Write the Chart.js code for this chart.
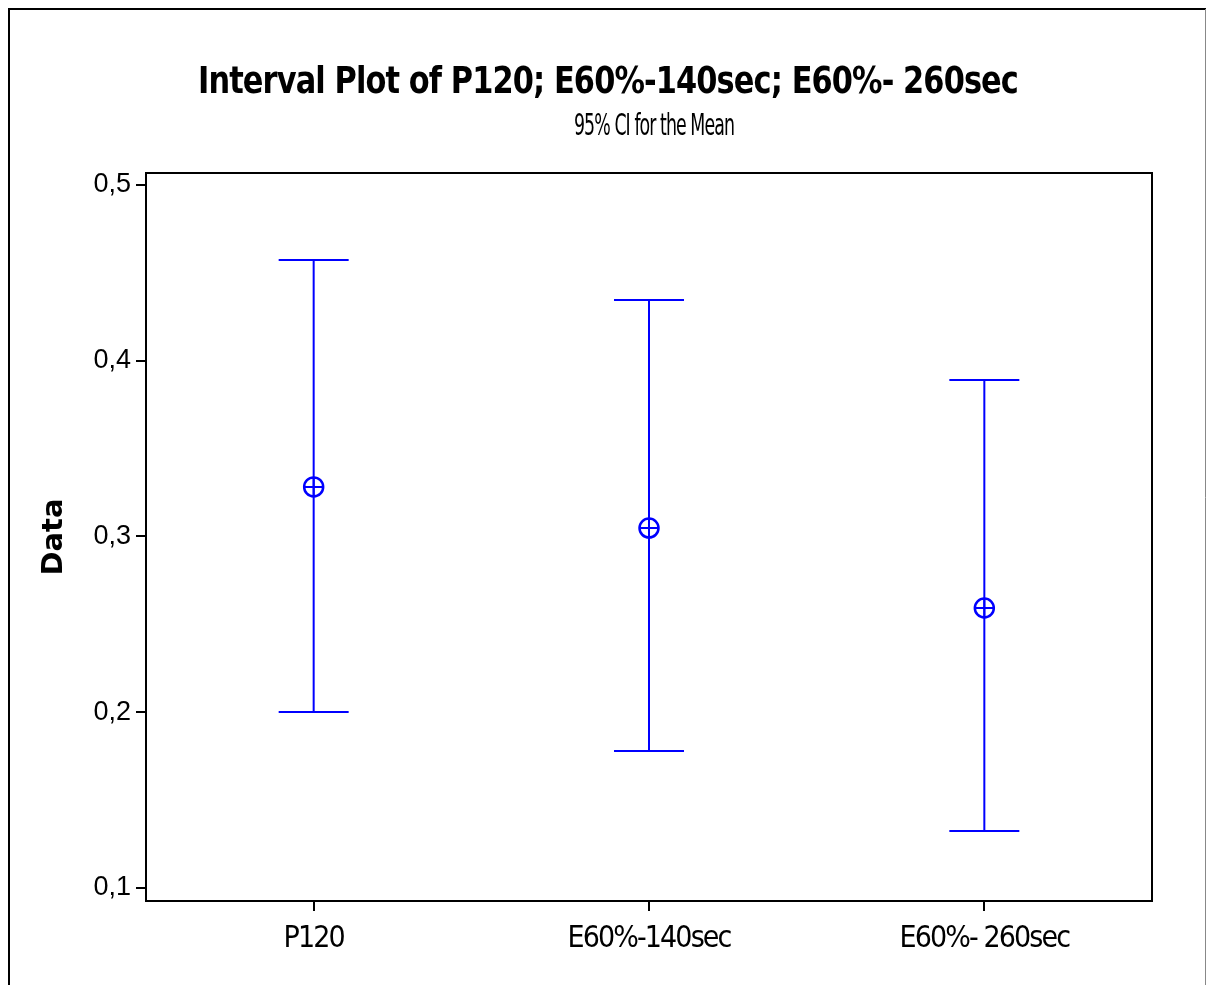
<!DOCTYPE html>
<html><head><meta charset="utf-8">
<script src="https://cdn.jsdelivr.net/npm/chart.js@4.4.1/dist/chart.umd.min.js"></script>
<style>html,body{margin:0;padding:0;background:#fff;overflow:hidden}#wrap{position:relative;width:1207px;height:985px}</style>
</head><body><div id="wrap"><canvas id="c" width="1207" height="985"></canvas></div>
<script>
const categories = ['P120', 'E60%-140sec', 'E60%- 260sec'];
const means = [0.3282, 0.3048, 0.2593];
const lowerCI = [0.2001, 0.1780, 0.1324];
const upperCI = [0.4573, 0.4346, 0.3890];
const yTicks = [0.1, 0.2, 0.3, 0.4, 0.5];
const yMin = 0.0926, yMax = 0.5068;
const chartTitle = 'Interval Plot of P120; E60%-140sec; E60%- 260sec';
const chartSubtitle = '95% CI for the Mean';
const yAxisTitle = 'Data';

const COND = "'DejaVu Sans Condensed', 'Liberation Sans Narrow', sans-serif";
const BLUE = '#0000FF';

const xPos = categories.map((c, i) => i + 1);
const stems = [];
xPos.forEach((x, i) => { stems.push({x, y: lowerCI[i]}, {x, y: upperCI[i]}, {x, y: null}); });
const caps = [];
xPos.forEach((x, i) => { caps.push({x, y: lowerCI[i]}, {x, y: upperCI[i]}); });
const meanPts = xPos.map((x, i) => ({x, y: means[i]}));

function fittedText(ctx, text, font, spacing, cx, baseline, targetW) {
  ctx.save();
  ctx.font = font;
  ctx.letterSpacing = spacing + 'px';
  ctx.textAlign = 'left';
  ctx.textBaseline = 'alphabetic';
  ctx.fillStyle = '#000';
  const w = ctx.measureText(text).width;
  const sx = targetW / w;
  ctx.translate(cx - targetW / 2, baseline);
  ctx.scale(sx, 1);
  ctx.fillText(text, 0, 0);
  ctx.restore();
}

const framePlugin = {
  id: 'frames',
  beforeDraw(chart) {
    const ctx = chart.ctx;
    ctx.letterSpacing = '0px';
    ctx.save();
    ctx.fillStyle = '#fff';
    ctx.fillRect(0, 0, chart.width, chart.height);
    ctx.strokeStyle = '#000';
    ctx.lineWidth = 2;
    ctx.beginPath();
    ctx.moveTo(9, 990); ctx.lineTo(9, 9); ctx.lineTo(1206, 9);
    ctx.stroke();
    ctx.strokeStyle = '#888';
    ctx.lineWidth = 1;
    ctx.beginPath();
    ctx.moveTo(1205.5, 9); ctx.lineTo(1205.5, 990);
    ctx.stroke();
    ctx.restore();
  },
  afterDatasetsDraw(chart) {
    chart.ctx.letterSpacing = '-1.9px';
  },
  afterDraw(chart) {
    const a = chart.chartArea, ctx = chart.ctx;
    ctx.letterSpacing = '0px';
    ctx.save();
    ctx.strokeStyle = '#000';
    ctx.lineWidth = 2;
    ctx.strokeRect(a.left, a.top, a.right - a.left, a.bottom - a.top);
    ctx.restore();
    fittedText(ctx, chartTitle, "bold 38px " + COND, -1, 608, 93, 820);
    fittedText(ctx, chartSubtitle, "31px " + COND, -1.5, 654, 135, 160);
  }
};

new Chart(document.getElementById('c'), {
  type: 'scatter',
  data: {
    datasets: [
      { data: stems, showLine: true, spanGaps: false, borderColor: BLUE, borderWidth: 2, pointRadius: 0 },
      { data: caps, showLine: false, pointStyle: 'line', pointRadius: 35, borderColor: BLUE, pointBorderWidth: 2 },
      { data: meanPts, showLine: false, pointStyle: 'circle', pointRadius: 9.5, borderColor: BLUE, backgroundColor: 'rgba(0,0,0,0)', pointBorderWidth: 2.5 },
      { data: meanPts, showLine: false, pointStyle: 'cross', pointRadius: 9.5, borderColor: BLUE, pointBorderWidth: 2 }
    ]
  },
  options: {
    responsive: false,
    animation: false,
    devicePixelRatio: 1,
    layout: { padding: { left: 0, right: 55, top: 173, bottom: 0 } },
    plugins: {
      legend: { display: false },
      tooltip: { enabled: false },
      title: { display: false },
      subtitle: { display: false }
    },
    scales: {
      x: {
        type: 'linear', min: 0.5, max: 3.5,
        afterBuildTicks(s) { s.ticks = xPos.map(v => ({ value: v })); },
        afterFit(s) { s.height = 84; },
        ticks: { z: 1, color: '#000', font: { family: COND, size: 30 }, padding: 10,
          callback: (v) => categories[Math.round(v) - 1] },
        grid: { drawOnChartArea: false, drawTicks: true, tickLength: 10, color: '#000', lineWidth: 2 },
        border: { display: false }
      },
      y: {
        min: yMin, max: yMax,
        afterBuildTicks(s) { s.ticks = yTicks.map(v => ({ value: v })); },
        afterFit(s) { s.width = 146; },
        ticks: { color: '#000', font: { family: "'Liberation Sans', Arial, sans-serif", size: 27 }, padding: 5,
          callback: (v) => v.toFixed(1).replace('.', ',') },
        grid: { drawOnChartArea: false, drawTicks: true, tickLength: 10, color: '#000', lineWidth: 2 },
        border: { display: false },
        title: { display: true, text: yAxisTitle, color: '#000', font: { family: "'DejaVu Sans', sans-serif", size: 29, weight: 'bold' },
          padding: { top: 37, bottom: 0 } }
      }
    }
  },
  plugins: [framePlugin]
});
</script></body></html>
